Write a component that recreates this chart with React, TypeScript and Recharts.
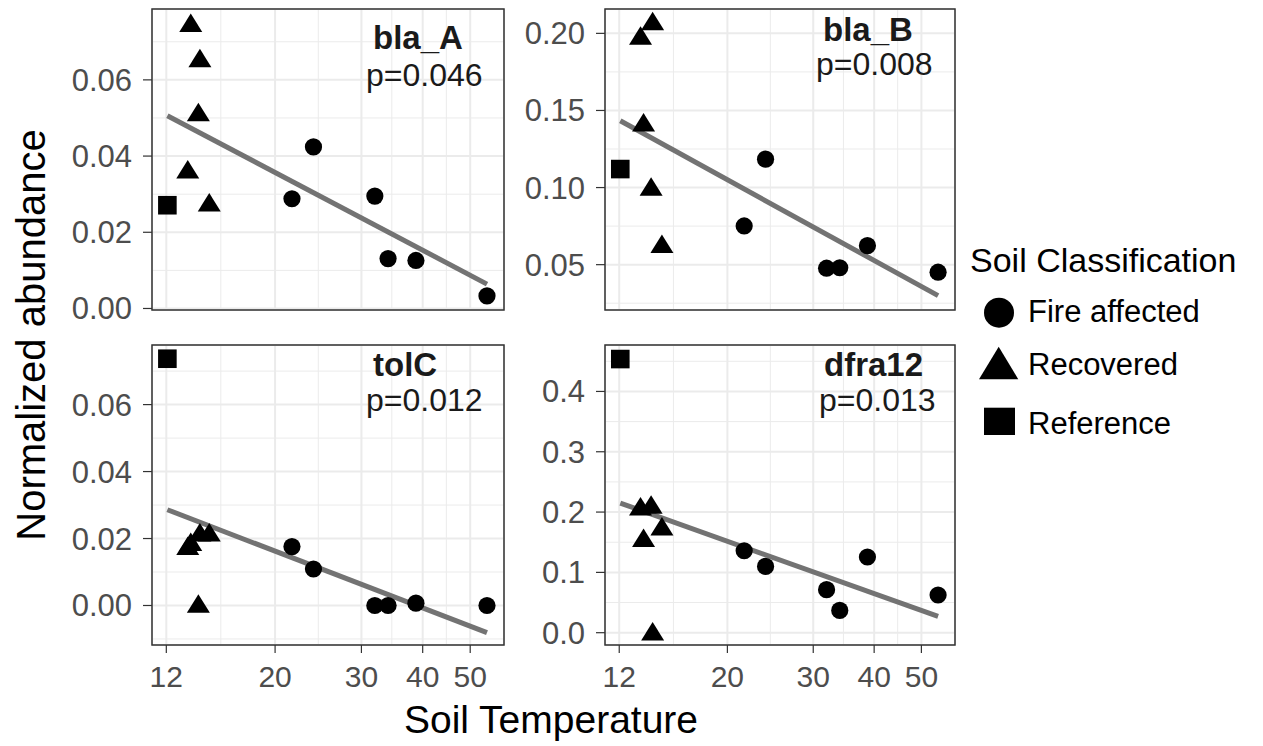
import React from 'react';
import {
  ScatterChart,
  Scatter,
  XAxis,
  YAxis,
  CartesianGrid,
  ReferenceLine,
  ReferenceArea,
} from 'recharts';

// soil temperature of each sample, by soil class
const TEMP_REFERENCE = [12.06];
const TEMP_RECOVERED = [13.27, 13.46, 13.95, 14.05, 14.68];
const TEMP_FIRE = [21.65, 23.95, 31.95, 34.0, 38.75, 54.1];

// normalized abundance per gene, same sample order as above
const BLA_A_REF = [0.0271];
const BLA_A_REC = [0.0365, 0.0749, 0.0515, 0.0657, 0.0278];
const BLA_A_FIRE = [0.0288, 0.0424, 0.0295, 0.0131, 0.0126, 0.0033];
const BLA_A_FIT = [0.0506, 0.0064];

const BLA_B_REF = [0.112];
const BLA_B_REC = [0.1985, 0.1422, 0.1006, 0.2078, 0.0634];
const BLA_B_FIRE = [0.0751, 0.1184, 0.0477, 0.048, 0.0623, 0.0451];
const BLA_B_FIT = [0.1433, 0.0299];

const TOLC_REF = [0.0737];
const TOLC_REC = [0.0178, 0.019, 0.0005, 0.0218, 0.0218];
const TOLC_FIRE = [0.0176, 0.0109, 0.0, 0.0, 0.0007, 0.0];
const TOLC_FIT = [0.0286, -0.0081];

const DFRA12_REF = [0.4537];
const DFRA12_REC = [0.2094, 0.157, 0.2122, 0.002, 0.1762];
const DFRA12_FIRE = [0.1359, 0.1099, 0.0713, 0.037, 0.1255, 0.0625];
const DFRA12_FIT = [0.215, 0.027];

const GENES = ['bla_A', 'bla_B', 'tolC', 'dfra12'];
const P_VALUES = ['p=0.046', 'p=0.008', 'p=0.012', 'p=0.013'];

const X_TICKS = [12, 20, 30, 40, 50];
const X_MINOR = [15.5, 24.5, 34.6, 44.7];
const X_DOMAIN = [11.22, 58.6];

const BLA_A_TICKS = [0, 0.02, 0.04, 0.06];
const BLA_A_MINOR = [0.01, 0.03, 0.05, 0.07];
const BLA_B_TICKS = [0.05, 0.1, 0.15, 0.2];
const BLA_B_MINOR = [0.025, 0.075, 0.125, 0.175];
const TOLC_TICKS = [0, 0.02, 0.04, 0.06];
const TOLC_MINOR = [-0.01, 0.01, 0.03, 0.05, 0.07];
const DFRA12_TICKS = [0, 0.1, 0.2, 0.3, 0.4];
const DFRA12_MINOR = [0.05, 0.15, 0.25, 0.35, 0.45];

const FONT = '"Liberation Sans", Arial, Helvetica, sans-serif';
const TICK_COLOR = '#4D4D4D';
const GRID = '#EBEBEB';

const pts = (xs: number[], ys: number[]) => xs.map((x, i) => ({ x, y: ys[i] }));

const CircleShape = (p: any) => <circle cx={p.cx} cy={p.cy} r={8.6} fill="#000" />;
const TriangleShape = (p: any) => (
  <path d={`M${p.cx},${p.cy - 9.5}L${p.cx + 11.5},${p.cy + 9}L${p.cx - 11.5},${p.cy + 9}Z`} fill="#000" />
);
const SquareShape = (p: any) => <rect x={p.cx - 9.3} y={p.cy - 9.3} width={18.6} height={18.6} fill="#000" />;

interface PanelProps {
  left: number;
  top: number;
  yAxisW: number;
  plotW: number;
  plotH: number;
  marginTop: number;
  showX: boolean;
  yDomain: number[];
  yTicks: number[];
  yMinor: number[];
  digits: number;
  refY: number[];
  recY: number[];
  fireY: number[];
  fit: number[];
}

const Panel: React.FC<PanelProps> = (p) => {
  const xAxisH = p.showX ? 50 : 0;
  const bottom = p.showX ? 4 : 20;
  const width = p.yAxisW + p.plotW + 8;
  const height = p.marginTop + p.plotH + xAxisH + bottom;
  const fitData = [
    { x: TEMP_REFERENCE[0], y: p.fit[0] },
    { x: TEMP_FIRE[TEMP_FIRE.length - 1], y: p.fit[1] },
  ];
  return (
    <div style={{ position: 'absolute', left: p.left, top: p.top }}>
      <ScatterChart width={width} height={height} margin={{ top: p.marginTop, right: 8, bottom, left: 0 }}>
        <XAxis xAxisId="minor" type="number" dataKey="x" scale="log" domain={X_DOMAIN} allowDataOverflow ticks={X_MINOR} hide />
        <YAxis yAxisId="minor" type="number" dataKey="y" domain={p.yDomain} allowDataOverflow ticks={p.yMinor} hide />
        <XAxis
          type="number"
          dataKey="x"
          scale="log"
          domain={X_DOMAIN}
          allowDataOverflow
          ticks={X_TICKS}
          height={xAxisH}
          hide={!p.showX}
          axisLine={false}
          tickSize={8}
          tickMargin={13}
          tickLine={{ stroke: '#333', strokeWidth: 1.2 }}
          tick={{ fill: TICK_COLOR, fontSize: 30 }}
          interval={0}
        />
        <YAxis
          type="number"
          dataKey="y"
          domain={p.yDomain}
          allowDataOverflow
          ticks={p.yTicks}
          width={p.yAxisW}
          axisLine={false}
          tickSize={9}
          tickMargin={11}
          tickLine={{ stroke: '#333', strokeWidth: 1.2 }}
          tick={{ fill: TICK_COLOR, fontSize: 31 }}
          tickFormatter={(v: number) => v.toFixed(p.digits)}
          interval={0}
        />
        <CartesianGrid xAxisId="minor" yAxisId="minor" stroke={GRID} strokeWidth={1} fill="#fff" />
        <CartesianGrid stroke={GRID} strokeWidth={2} />
        <ReferenceLine segment={fitData} stroke="#737373" strokeWidth={5} ifOverflow="visible" />
        <Scatter data={pts(TEMP_FIRE, p.fireY)} shape={CircleShape} isAnimationActive={false} />
        <Scatter data={pts(TEMP_RECOVERED, p.recY)} shape={TriangleShape} isAnimationActive={false} />
        <Scatter data={pts(TEMP_REFERENCE, p.refY)} shape={SquareShape} isAnimationActive={false} />
        <ReferenceArea
          x1={X_DOMAIN[0]}
          x2={X_DOMAIN[1]}
          y1={p.yDomain[0]}
          y2={p.yDomain[1]}
          fill="none"
          stroke="#333"
          strokeWidth={1.5}
          ifOverflow="visible"
        />
      </ScatterChart>
    </div>
  );
};

const Annotation: React.FC<{ x1: number; y1: number; x2: number; y2: number; gene: string; p: string }> = (a) => (
  <>
    <text x={a.x1} y={a.y1} fontSize={33} fontWeight="bold" fill="#1a1a1a">
      {a.gene}
    </text>
    <text x={a.x2} y={a.y2} fontSize={32} fill="#1a1a1a">
      {a.p}
    </text>
  </>
);

export default function App() {
  return (
    <div style={{ position: 'absolute', left: 0, top: 0, width: 1263, height: 746, background: '#fff', fontFamily: FONT }}>
      <Panel left={0} top={0} yAxisW={152} plotW={352} plotH={301} marginTop={9} showX={false}
        yDomain={[-0.0004, 0.0786]} yTicks={BLA_A_TICKS} yMinor={BLA_A_MINOR} digits={2}
        refY={BLA_A_REF} recY={BLA_A_REC} fireY={BLA_A_FIRE} fit={BLA_A_FIT} />
      <Panel left={515} top={0} yAxisW={90} plotW={350} plotH={301} marginTop={9} showX={false}
        yDomain={[0.0206, 0.2158]} yTicks={BLA_B_TICKS} yMinor={BLA_B_MINOR} digits={2}
        refY={BLA_B_REF} recY={BLA_B_REC} fireY={BLA_B_FIRE} fit={BLA_B_FIT} />
      <Panel left={0} top={336} yAxisW={152} plotW={352} plotH={300} marginTop={9} showX
        yDomain={[-0.0118, 0.0778]} yTicks={TOLC_TICKS} yMinor={TOLC_MINOR} digits={2}
        refY={TOLC_REF} recY={TOLC_REC} fireY={TOLC_FIRE} fit={TOLC_FIT} />
      <Panel left={515} top={336} yAxisW={90} plotW={350} plotH={300} marginTop={9} showX
        yDomain={[-0.0204, 0.477]} yTicks={DFRA12_TICKS} yMinor={DFRA12_MINOR} digits={1}
        refY={DFRA12_REF} recY={DFRA12_REC} fireY={DFRA12_FIRE} fit={DFRA12_FIT} />

      <svg width={1263} height={746} style={{ position: 'absolute', left: 0, top: 0, pointerEvents: 'none' }}>
        <Annotation x1={373} y1={49} x2={366} y2={86} gene={GENES[0]} p={P_VALUES[0]} />
        <Annotation x1={823} y1={41} x2={816} y2={75} gene={GENES[1]} p={P_VALUES[1]} />
        <Annotation x1={373} y1={376} x2={366} y2={411} gene={GENES[2]} p={P_VALUES[2]} />
        <Annotation x1={824} y1={376} x2={819} y2={411} gene={GENES[3]} p={P_VALUES[3]} />

        <text x={551} y={733} fontSize={39} textAnchor="middle" fill="#000">Soil Temperature</text>
        <text x={45} y={335} fontSize={40} textAnchor="middle" fill="#000" transform="rotate(-90 45 335)">
          Normalized abundance
        </text>

        <text x={970} y={272} fontSize={34} fill="#000">Soil Classification</text>
        <circle cx={999} cy={312.7} r={15} fill="#000" />
        <text x={1028} y={322} fontSize={31} fill="#000">Fire affected</text>
        <path d="M998.7,346.7L1018.3,379.3L979,379.3Z" fill="#000" />
        <text x={1028} y={375} fontSize={31} fill="#000">Recovered</text>
        <rect x={984} y={407.7} width={31} height={27.3} fill="#000" />
        <text x={1028} y={434} fontSize={31} fill="#000">Reference</text>
      </svg>
    </div>
  );
}
